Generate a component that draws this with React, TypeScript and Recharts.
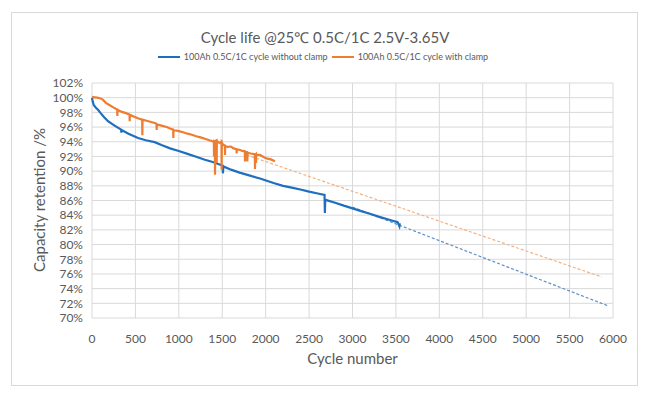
import { LineChart, Line, XAxis, YAxis, CartesianGrid } from 'recharts';

// cycle life, 100Ah cell, without clamp (blue)
const noClampCycles = [
  0, 8, 20, 40, 69, 100, 140, 184, 260, 336, 338, 341, 420, 530, 620, 722, 800, 899, 1000, 1100,
  1200, 1300, 1400, 1469, 1505, 1508, 1512, 1520, 1600, 1700, 1800, 1935, 2012, 2100, 2200, 2300,
  2400, 2500, 2600, 2678, 2682, 2686, 2700, 2800, 2900, 3009, 3100, 3200, 3300, 3432, 3520, 3540, 3545,
];
const noClampRetention = [
  100, 99.5, 99.0, 98.7, 98.35, 97.9, 97.35, 96.8, 96.2, 95.65, 95.25, 95.6, 95.1, 94.5, 94.2, 93.95,
  93.55, 93.1, 92.75, 92.35, 91.95, 91.55, 91.2, 90.9, 90.75, 89.7, 90.6, 90.6, 90.2, 89.8, 89.45, 89.0,
  88.7, 88.35, 88.0, 87.75, 87.5, 87.2, 86.95, 86.75, 84.3, 86.1, 86.05, 85.7, 85.3, 84.9, 84.55, 84.2,
  83.8, 83.35, 83.05, 82.5, 82.9,
];

// with clamp (orange)
const clampCycles = [
  0, 30, 60, 100, 127, 160, 200, 250, 290, 292, 294, 338, 390, 432, 434, 436, 480, 530, 578, 580, 582,
  650, 722, 743, 745, 747, 800, 860, 899, 935, 937, 939, 1000, 1050, 1100, 1150, 1200, 1250, 1300, 1350,
  1403, 1405, 1407, 1415, 1417, 1419, 1434, 1436, 1438, 1469, 1491, 1493, 1495, 1510, 1530, 1532, 1534,
  1560, 1600, 1630, 1664, 1666, 1668, 1700, 1730, 1760, 1762, 1764, 1787, 1789, 1791, 1830, 1875, 1877,
  1879, 1887, 1889, 1891, 1935, 1980, 2020, 2060, 2107,
];
const clampRetention = [
  100.1, 100.05, 100.0, 99.9, 99.7, 99.3, 99.0, 98.65, 98.4, 97.5, 98.35, 98.1, 97.9, 97.7, 96.8, 97.68,
  97.45, 97.2, 97.0, 94.9, 97.0, 96.8, 96.55, 96.45, 95.6, 96.4, 96.2, 96.0, 95.8, 95.65, 94.5, 95.6,
  95.45, 95.3, 95.1, 94.95, 94.75, 94.6, 94.4, 94.2, 94.0, 92.0, 94.0, 93.9, 89.5, 94.1, 94.2, 91.1, 94.1,
  93.85, 94.0, 90.2, 93.9, 93.6, 93.5, 92.2, 93.4, 93.3, 93.35, 93.1, 93.0, 92.4, 92.95, 92.9, 92.75,
  92.7, 91.3, 92.6, 92.6, 91.3, 92.5, 92.4, 92.3, 90.3, 92.2, 92.3, 91.1, 92.2, 92.2, 91.9, 91.7, 91.6, 91.35,
];

// linear extrapolations (dashed)
const noClampTrendCycles = [3000, 5955];
const noClampTrendRetention = [85.1, 71.6];
const clampTrendCycles = [1780, 5870];
const clampTrendRetention = [92.2, 75.6];

const xTicks = [0, 500, 1000, 1500, 2000, 2500, 3000, 3500, 4000, 4500, 5000, 5500, 6000];
const yTicks = [70, 72, 74, 76, 78, 80, 82, 84, 86, 88, 90, 92, 94, 96, 98, 100, 102];

const toPoints = (cycles: number[], values: number[]) => cycles.map((c, i) => ({ cycle: c, value: values[i] }));

const noClampData = toPoints(noClampCycles, noClampRetention);
const clampData = toPoints(clampCycles, clampRetention);
const noClampTrend = toPoints(noClampTrendCycles, noClampTrendRetention);
const clampTrend = toPoints(clampTrendCycles, clampTrendRetention);

const FONT = 'Lato, "Open Sans", sans-serif';
const BLUE = '#1f6fc1';
const ORANGE = '#ed7d31';

function LegendItem({ color, label }: { color: string; label: string }) {
  return (
    <span style={{ display: 'inline-flex', alignItems: 'center', marginRight: 4 }}>
      <span style={{ display: 'inline-block', width: 22, height: 2.5, background: color, marginRight: 4 }} />
      <span>{label}</span>
    </span>
  );
}

export default function App() {
  return (
    <div style={{ position: 'absolute', left: 0, top: 0, width: 650, height: 395, background: '#fff', fontFamily: FONT }}>
      <div
        style={{
          position: 'absolute', left: 11, top: 12, width: 627, height: 374,
          border: '1px solid #d9d9d9', boxSizing: 'border-box',
        }}
      />
      <div style={{ position: 'absolute', left: 0, top: 27, width: 650, textAlign: 'center', fontSize: 15, lineHeight: '20px', color: '#595959' }}>
        Cycle life @25℃ 0.5C/1C 2.5V-3.65V
      </div>
      <div
        style={{
          position: 'absolute', left: 0, top: 50, width: 650, display: 'flex', justifyContent: 'center',
          fontSize: 9, lineHeight: '14px', color: '#595959',
        }}
      >
        <LegendItem color={BLUE} label="100Ah 0.5C/1C cycle without clamp" />
        <LegendItem color={ORANGE} label="100Ah 0.5C/1C cycle with clamp" />
      </div>
      <div style={{ position: 'absolute', left: 0, top: 0 }}>
        <LineChart width={650} height={395} margin={{ top: 83, right: 37, bottom: 47, left: 32 }}>
          <CartesianGrid stroke="#d9d9d9" strokeWidth={1} />
          <XAxis
            type="number"
            dataKey="cycle"
            domain={[0, 6000]}
            ticks={xTicks}
            interval={0}
            axisLine={false}
            tickLine={false}
            tickSize={0}
            tickMargin={16}
            height={30}
            tick={{ fontSize: 12, fill: '#595959', fontFamily: FONT }}
            label={{ value: 'Cycle number', position: 'bottom', offset: 5, fontSize: 15, fill: '#595959', fontFamily: FONT }}
          />
          <YAxis
            type="number"
            dataKey="value"
            domain={[70, 102]}
            ticks={yTicks}
            interval={0}
            width={60}
            axisLine={false}
            tickLine={false}
            tickSize={0}
            tickMargin={9}
            tickFormatter={(v: number) => `${v}%`}
            tick={{ fontSize: 12, fill: '#595959', fontFamily: FONT }}
            label={{
              content: () => (
                <text
                  x={39}
                  y={200}
                  transform="rotate(-90, 39, 200)"
                  textAnchor="middle"
                  dominantBaseline="central"
                  fontSize={15}
                  fill="#595959"
                  fontFamily={FONT}
                >
                  Capacity retention /%
                </text>
              ),
            }}
          />
          <Line
            data={clampTrend}
            dataKey="value"
            stroke="#f4b183"
            strokeWidth={1.2}
            strokeDasharray="3 2"
            dot={false}
            activeDot={false}
            isAnimationActive={false}
          />
          <Line
            data={noClampTrend}
            dataKey="value"
            stroke="#5b8fc9"
            strokeWidth={1.2}
            strokeDasharray="3 2"
            dot={false}
            activeDot={false}
            isAnimationActive={false}
          />
          <Line
            data={noClampData}
            dataKey="value"
            type="linear"
            stroke={BLUE}
            strokeWidth={2.2}
            dot={false}
            activeDot={false}
            isAnimationActive={false}
          />
          <Line
            data={clampData}
            dataKey="value"
            type="linear"
            stroke={ORANGE}
            strokeWidth={2.2}
            dot={false}
            activeDot={false}
            isAnimationActive={false}
          />
        </LineChart>
      </div>
    </div>
  );
}
